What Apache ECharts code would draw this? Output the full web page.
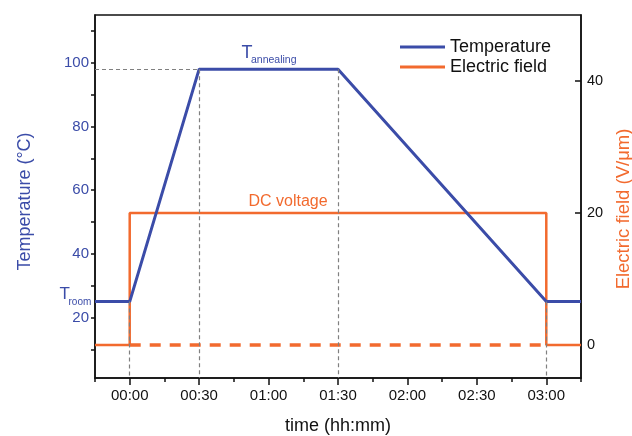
<!DOCTYPE html>
<html>
<head>
<meta charset="utf-8">
<script src="https://cdn.jsdelivr.net/npm/echarts@6/dist/echarts.min.js"></script>
<style>
html,body{margin:0;padding:0;background:#fff;}
#chart{width:632px;height:436px;}
</style>
</head>
<body>
<div id="chart"></div>
<script>
// ---- data (minutes relative to field switch-on) ----
const tempTime = [-15, 0, 30, 90, 180, 195];
const temperature = [25, 25, 98, 98, 25, 25];
const fieldTime = [-15, 0, 0, 180, 180, 195];
const field = [0, 0, 20, 20, 0, 0];
const offTime = [0, 180];
const offField = [0, 0];
const xMajorTicks = [0, 30, 60, 90, 120, 150, 180];
const xMinorTicks = [-15, 15, 45, 75, 105, 135, 165, 195];
const tempTicks = [10, 20, 30, 40, 50, 60, 70, 80, 90, 100, 110];
const tempLabels = [20, 40, 60, 80, 100];
const fieldTicks = [0, 20, 40];
const xRange = [-15, 195];
const tempRange = [1, 115];
const fieldRange = [-5, 50];

const BLUE = '#3B4CA8';
const ORANGE = '#F26A2E';
const FONT = 'Arial, "Liberation Sans", sans-serif';

function hhmm(v) {
  const h = Math.floor(v / 60), m = v % 60;
  return String(h).padStart(2, '0') + ':' + String(m).padStart(2, '0');
}
const zip = (a, b) => a.map((x, i) => [x, b[i]]);

// guide lines: from temperature profile corners down to the axis
const guideLines = [1, 2, 3, 4].map(i => [
  { coord: [tempTime[i], temperature[i]] },
  { coord: [tempTime[i], tempRange[0]] }
]);
guideLines.push([
  { coord: [xRange[0], temperature[2]] },
  { coord: [tempTime[2], temperature[2]] }
]);

const chart = echarts.init(document.getElementById('chart'), null, { renderer: 'canvas' });
chart.setOption({
  animation: false,
  textStyle: { fontFamily: FONT },
  grid: { left: 95, right: 51, top: 15, bottom: 58, outerBoundsMode: 'none', containLabel: false,
          show: true, borderColor: '#111', borderWidth: 1.5, backgroundColor: 'transparent' },
  legend: {
    orient: 'vertical', left: 395, top: 33, itemGap: 2,
    icon: 'rect', itemWidth: 45, itemHeight: 3,
    data: ['Temperature', 'Electric field'],
    textStyle: { fontSize: 18, color: '#111', fontFamily: FONT }
  },
  xAxis: [
    {
      type: 'value', min: xRange[0], max: xRange[1], position: 'bottom',
      axisLine: { onZero: false, lineStyle: { color: '#111', width: 1.5 } },
      axisTick: { customValues: xMajorTicks, length: 7, lineStyle: { color: '#111', width: 1.5 } },
      axisLabel: { customValues: xMajorTicks, formatter: hhmm, fontSize: 15, color: '#111', margin: 10 },
      splitLine: { show: false },
      name: 'time (hh:mm)', nameLocation: 'middle', nameGap: 39,
      nameTextStyle: { fontSize: 18, color: '#111' }
    },
    {
      type: 'value', min: xRange[0], max: xRange[1], position: 'bottom',
      axisLine: { show: false, onZero: false },
      axisTick: { customValues: xMinorTicks, length: 4, lineStyle: { color: '#111', width: 1.5 } },
      axisLabel: { show: false },
      splitLine: { show: false }
    }
  ],
  yAxis: [
    {
      type: 'value', min: tempRange[0], max: tempRange[1], position: 'left',
      axisLine: { show: true, onZero: false, lineStyle: { color: '#111', width: 1.5 } },
      axisTick: { show: true, customValues: tempTicks, length: 4, lineStyle: { color: '#111', width: 1.5 } },
      axisLabel: { customValues: tempLabels, fontSize: 15, color: BLUE, margin: 6 },
      splitLine: { show: false },
      name: 'Temperature (°C)', nameLocation: 'middle', nameGap: 61,
      nameTextStyle: { fontSize: 18, color: BLUE, padding: [0, 10, 0, 0] }
    },
    {
      type: 'value', min: fieldRange[0], max: fieldRange[1], position: 'right',
      axisLine: { show: true, onZero: false, lineStyle: { color: '#111', width: 1.5 } },
      axisTick: { show: true, inside: true, customValues: fieldTicks, length: 6, lineStyle: { color: '#111', width: 1.5 } },
      axisLabel: { customValues: fieldTicks, fontSize: 14.5, color: '#111', margin: 6 },
      splitLine: { show: false },
      name: 'Electric field (V/μm)', nameLocation: 'middle', nameGap: 31,
      nameTextStyle: { fontSize: 18.5, color: ORANGE, padding: [0, 25, 0, 0] }
    }
  ],
  series: [
    {
      name: 'guides', type: 'line', xAxisIndex: 0, yAxisIndex: 0, data: [], z: 1, silent: true,
      markLine: {
        silent: true, symbol: 'none', animation: false,
        label: { show: false },
        lineStyle: { color: '#808080', width: 1.2, type: [4, 3] },
        data: guideLines
      }
    },
    {
      name: 'Electric field off', type: 'line', xAxisIndex: 0, yAxisIndex: 1,
      data: zip(offTime, offField), showSymbol: false, symbol: 'none', z: 2,
      lineStyle: { color: ORANGE, width: 3.5, type: [11, 9] }
    },
    {
      name: 'Electric field', type: 'line', xAxisIndex: 0, yAxisIndex: 1,
      data: zip(fieldTime, field), showSymbol: false, symbol: 'none', z: 3,
      color: ORANGE, lineStyle: { color: ORANGE, width: 2.5 }
    },
    {
      name: 'Temperature', type: 'line', xAxisIndex: 0, yAxisIndex: 0,
      data: zip(tempTime, temperature), showSymbol: false, symbol: 'none', z: 4,
      color: BLUE, lineStyle: { color: BLUE, width: 3 }
    }
  ],
  graphic: [
    { type: 'text', x: 241.5, y: 53, style: { text: 'T', fontSize: 18, fill: BLUE, fontFamily: FONT, verticalAlign: 'middle' } },
    { type: 'text', x: 251, y: 60.5, style: { text: 'annealing', fontSize: 10.5, fill: BLUE, fontFamily: FONT, verticalAlign: 'middle' } },
    { type: 'text', x: 59.5, y: 294, style: { text: 'T', fontSize: 17, fill: BLUE, fontFamily: FONT, verticalAlign: 'middle' } },
    { type: 'text', x: 68.5, y: 302.5, style: { text: 'room', fontSize: 10, fill: BLUE, fontFamily: FONT, verticalAlign: 'middle' } },
    { type: 'text', x: 288, y: 202, style: { text: 'DC voltage', fontSize: 16, fill: ORANGE, fontFamily: FONT, align: 'center', verticalAlign: 'middle' } }
  ]
});
</script>
</body>
</html>
